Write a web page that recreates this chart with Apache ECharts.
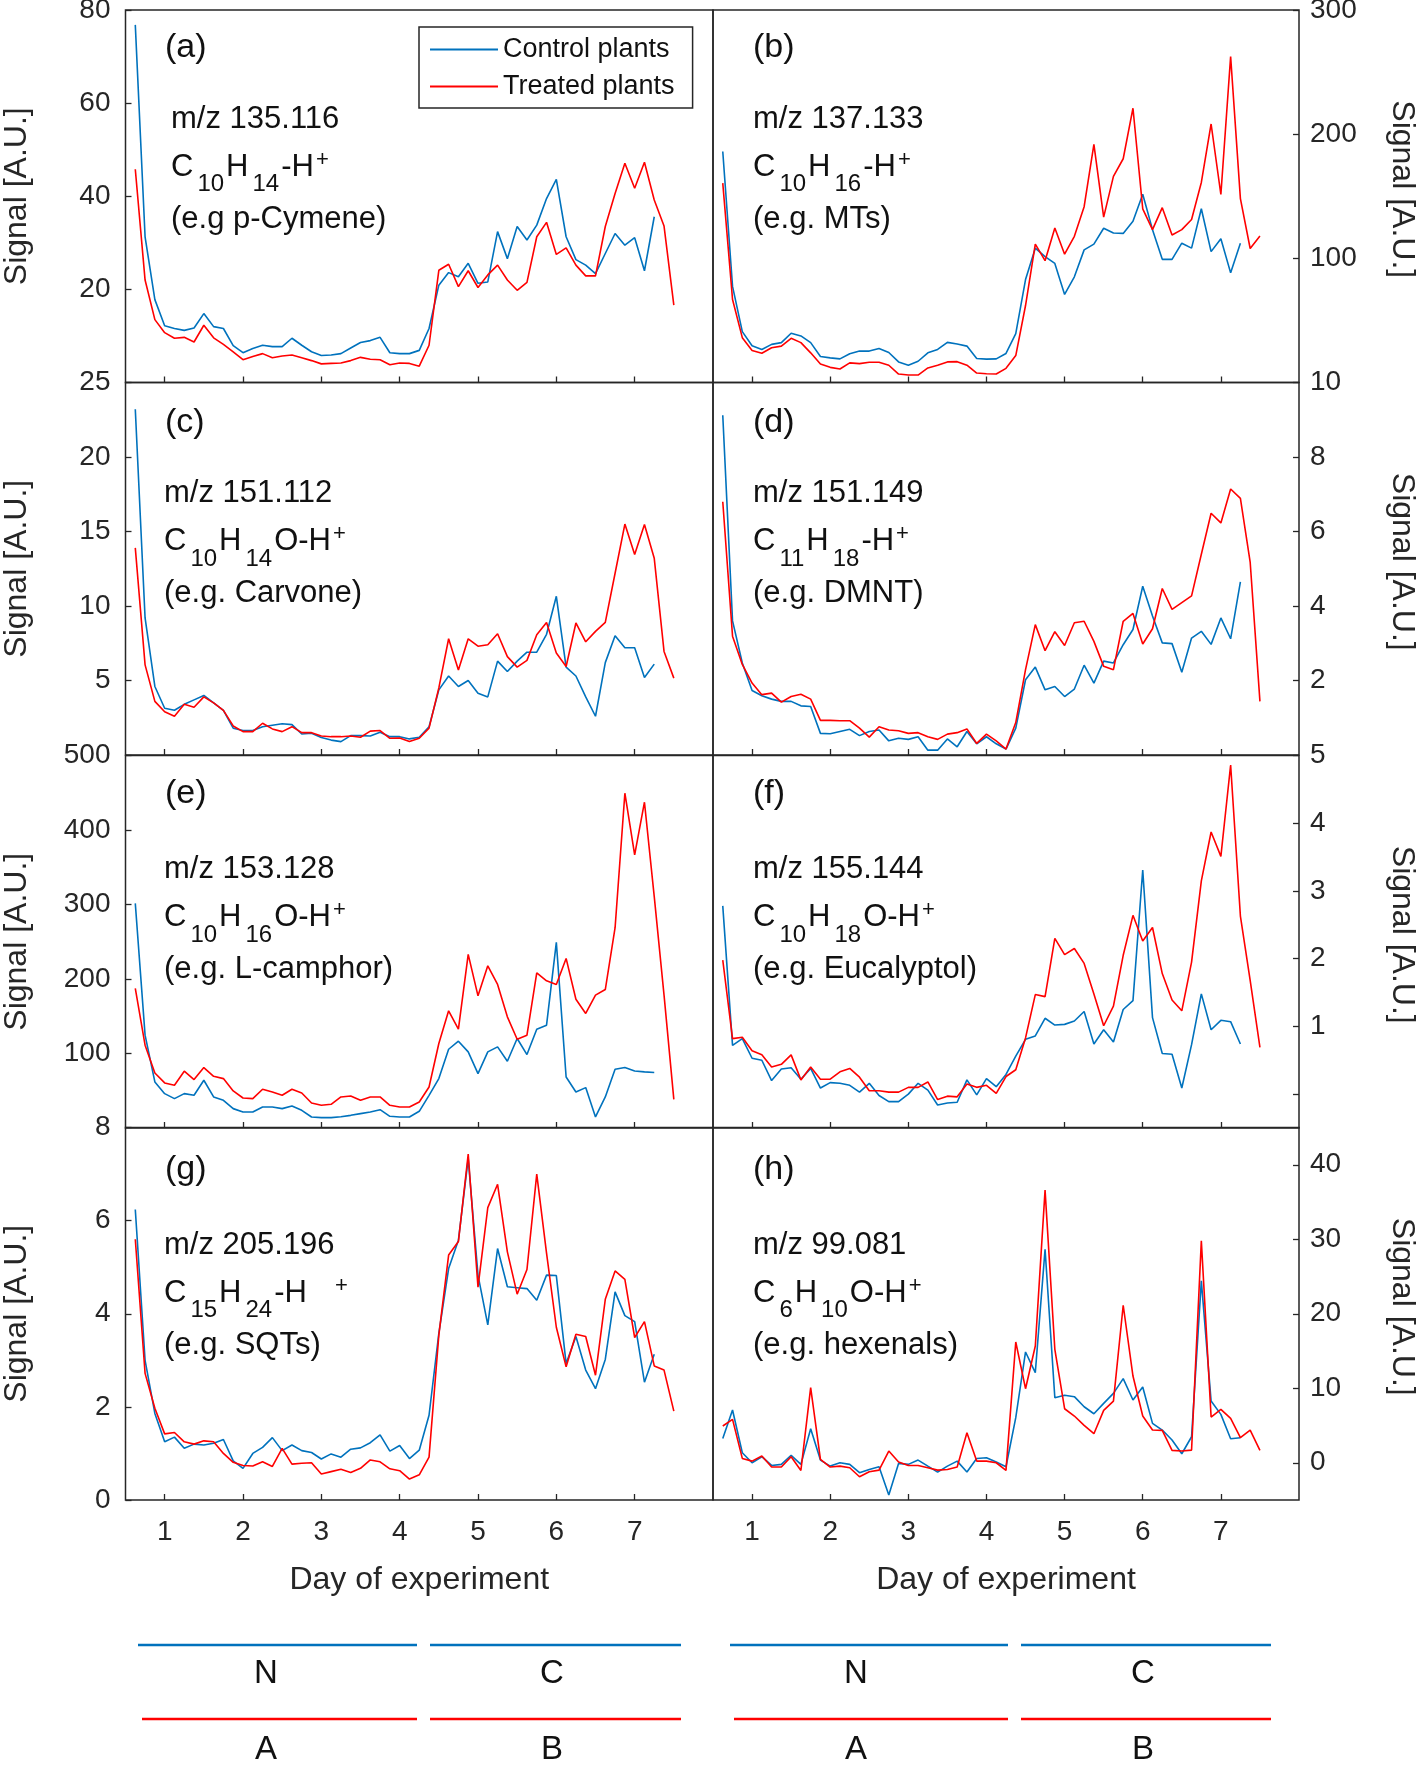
<!DOCTYPE html>
<html><head><meta charset="utf-8">
<script src="https://cdn.jsdelivr.net/npm/echarts@6/dist/echarts.min.js"></script>
<style>html,body{margin:0;padding:0;background:#fff}#c{width:1418px;height:1765px}</style>
</head><body><div id="c"></div>
<script>
// sampling times (days), every 3 h
const days = [0.625,0.75,0.875,1,1.125,1.25,1.375,1.5,1.625,1.75,1.875,2,2.125,2.25,2.375,2.5,2.625,2.75,2.875,3,3.125,3.25,3.375,3.5,3.625,3.75,3.875,4,4.125,4.25,4.375,4.5,4.625,4.75,4.875,5,5.125,5.25,5.375,5.5,5.625,5.75,5.875,6,6.125,6.25,6.375,6.5,6.625,6.75,6.875,7,7.125,7.25,7.375,7.5];
const xTicks = [1,2,3,4,5,6,7];

const aControl = [76.8,31.3,17.8,12.2,11.6,11.2,11.7,14.8,12.0,11.6,7.9,6.4,7.3,8.0,7.7,7.7,9.5,8.0,6.6,5.8,5.9,6.2,7.4,8.6,9.0,9.7,6.4,6.2,6.2,6.9,11.6,20.9,23.6,22.7,25.6,21.3,21.6,32.4,26.6,33.5,30.6,33.8,39.5,43.6,31.3,26.4,25.2,23.4,27.7,32.0,29.5,31.1,24.0,35.6];
const aTreated = [45.8,22.0,13.5,10.7,9.5,9.7,8.7,12.3,9.6,8.2,6.6,4.9,5.6,6.2,5.3,5.7,5.9,5.3,4.7,4.0,4.1,4.2,4.7,5.4,5.0,4.9,3.8,4.2,4.1,3.5,8.0,24.1,25.4,20.6,24.0,20.4,23.1,25.2,22.0,19.8,21.5,31.3,34.4,27.5,28.9,25.2,22.9,22.9,33.5,40.6,47.1,41.7,47.3,39.2,33.6,16.6];
const bControl = [186,77.4,41.0,29.6,26.6,30.7,32.1,39.7,37.5,32.1,20.9,19.8,19.0,23.1,25.3,25.3,27.4,24.2,16.6,13.9,17.1,23.9,26.6,32.3,31.0,29.3,19.3,18.8,19.0,23.4,39.4,82.9,108.2,101.4,95.9,70.9,85.1,106.8,111.4,124.2,120.4,120.1,129.9,151.6,123.1,99.2,99.2,112.2,108.2,139.9,105.4,115.8,88.3,112.2];
const bTreated = [160.6,66.8,36.1,25.8,23.6,28.0,29.3,35.6,32.1,23.9,14.9,12.2,10.9,15.8,15.2,16.3,16.3,13.9,6.8,6.0,6.0,11.7,13.9,16.6,16.8,13.9,7.6,7.1,6.8,11.4,21.7,62.0,111.4,98.1,124.5,103.3,117.7,141.6,191.8,133.2,166.0,180.2,220.9,139.9,123.1,140.8,118.8,123.1,131.3,161.1,208.2,151.4,262.5,148.1,107.9,117.9];
const cControl = [23.2,9.2,4.6,3.14,3.0,3.4,3.7,4.0,3.5,3.0,1.8,1.64,1.64,1.9,2.0,2.1,2.04,1.41,1.46,1.17,1.0,0.9,1.3,1.3,1.28,1.52,1.23,1.23,1.08,1.19,1.9,4.37,5.3,4.6,5.0,4.15,3.9,6.3,5.6,6.3,6.9,6.9,8.1,10.65,5.9,5.3,3.9,2.6,6.2,8.0,7.2,7.2,5.2,6.1];
const cTreated = [13.9,6.05,3.6,2.9,2.6,3.4,3.2,3.9,3.5,3.0,1.95,1.57,1.57,2.13,1.75,1.57,1.9,1.5,1.5,1.28,1.23,1.23,1.28,1.19,1.6,1.64,1.12,1.14,0.9,1.12,1.8,4.5,7.8,5.7,7.8,7.3,7.4,8.14,6.6,5.9,6.35,8.07,8.9,6.84,5.94,8.86,7.6,8.3,8.9,12.2,15.5,13.45,15.47,13.2,6.95,5.16];
const dControl = [9.12,3.6,2.47,1.73,1.59,1.5,1.44,1.44,1.32,1.3,0.58,0.57,0.63,0.69,0.52,0.63,0.67,0.38,0.45,0.42,0.49,0.13,0.13,0.43,0.22,0.63,0.3,0.49,0.3,0.16,0.72,2.02,2.36,1.75,1.84,1.57,1.77,2.41,1.93,2.52,2.47,2.96,3.37,4.53,3.73,3.01,2.99,2.22,3.14,3.32,2.97,3.68,3.12,4.65];
const dTreated = [6.8,3.19,2.43,1.93,1.62,1.66,1.42,1.57,1.63,1.5,0.93,0.93,0.92,0.92,0.72,0.48,0.76,0.67,0.65,0.58,0.6,0.49,0.42,0.56,0.6,0.7,0.31,0.56,0.38,0.16,0.87,2.29,3.5,2.8,3.31,2.94,3.55,3.59,3.05,2.38,2.29,3.59,3.8,2.98,3.39,4.47,3.91,4.09,4.27,5.39,6.49,6.23,7.14,6.89,5.18,1.44];
const eControl = [301.5,124.6,61.8,46.1,39.4,46.1,43.9,64.1,41.7,37.2,26.0,21.5,21.5,28.2,28.2,26.0,29.6,23.7,14.8,13.9,13.9,15.2,17.0,19.3,21.5,24.6,15.7,14.8,14.8,22.4,43.9,66.3,105.7,116.5,102.2,73.0,102.2,108.9,89.6,120.1,98.6,132.6,138.0,249.1,68.5,48.4,54.2,14.8,41.7,78.9,81.1,76.6,75.3,74.4];
const eTreated = [187.3,111.1,73.9,60.5,57.3,76.2,65.0,81.1,69.4,66.3,49.7,40.3,39.4,52.0,48.4,43.9,52.0,47.0,33.6,30.5,31.8,41.7,43.0,37.2,41.7,41.7,30.5,28.2,28.2,34.9,55.1,113.4,157.3,132.6,233.0,177.4,217.7,192.7,149.2,119.2,124.6,208.3,197.6,192.7,227.6,172.9,153.7,178.3,185.9,268.8,449.4,366.5,437.3,310.5,178.3,38.5];
const fControl = [2.78,0.72,0.82,0.53,0.5,0.2,0.37,0.39,0.22,0.38,0.09,0.17,0.16,0.13,0.03,0.16,-0.02,-0.11,-0.11,0,0.16,0.06,-0.16,-0.13,-0.12,0.21,-0.01,0.23,0.11,0.29,0.56,0.81,0.86,1.12,1.02,1.03,1.08,1.22,0.74,0.95,0.77,1.25,1.38,3.31,1.13,0.6,0.59,0.09,0.73,1.48,0.95,1.09,1.07,0.74];
const fTreated = [1.98,0.82,0.84,0.64,0.58,0.4,0.44,0.58,0.21,0.4,0.22,0.22,0.33,0.38,0.25,0.05,0.05,0.03,0.03,0.1,0.1,0.18,-0.08,-0.03,-0.04,0.15,0.1,0.13,0.01,0.26,0.36,0.83,1.47,1.44,2.3,2.06,2.15,1.93,1.48,1.01,1.3,2.05,2.64,2.26,2.46,1.78,1.39,1.23,1.95,3.15,3.87,3.51,4.86,2.63,1.68,0.69];
const gControl = [6.24,3.0,1.86,1.25,1.35,1.11,1.2,1.18,1.22,1.3,0.84,0.68,1.0,1.13,1.34,1.06,1.18,1.06,1.02,0.88,0.99,0.92,1.09,1.12,1.23,1.4,1.05,1.17,0.89,1.07,1.82,3.58,4.97,5.58,7.33,4.83,3.76,5.4,4.58,4.56,4.54,4.29,4.83,4.82,2.93,3.51,2.79,2.39,3.02,4.47,3.96,3.83,2.53,3.13];
const gTreated = [5.6,2.72,1.97,1.42,1.45,1.25,1.2,1.27,1.25,1.0,0.81,0.74,0.73,0.82,0.72,1.11,0.77,0.79,0.8,0.56,0.61,0.66,0.59,0.68,0.86,0.82,0.67,0.63,0.45,0.54,0.92,3.54,5.26,5.55,7.43,4.57,6.28,6.78,5.33,4.42,4.95,7.0,5.3,3.71,2.86,3.56,3.51,2.68,4.31,4.92,4.74,3.49,3.83,2.88,2.79,1.91];
const hControl = [3.27,7.08,1.34,0,0.81,-0.36,-0.22,0.99,-0.22,4.57,0.36,-0.45,0,-0.22,-1.34,-0.9,-0.54,-4.34,-0.09,-0.22,0.36,-0.45,-1.25,-0.45,0.22,-1.25,0.58,0.67,0.09,-0.54,6.05,14.87,12.09,28.66,8.73,9.05,8.87,7.52,6.58,7.97,9.31,11.29,8.42,10.17,5.28,4.39,3.05,1.21,3.49,24.41,8.28,6.49,3.22,3.36];
const hTreated = [4.93,5.82,0.58,0.22,0.9,-0.58,-0.58,0.81,-1.03,10.08,0.45,-0.58,-0.45,-0.67,-1.88,-1.21,-0.99,1.57,0.09,-0.36,-0.36,-0.67,-0.99,-0.9,-0.58,4.03,0.22,0.22,0,-1.03,16.21,9.94,15.67,36.59,15.23,7.25,6.27,5.02,3.9,7.03,8.28,21.14,11.64,6.27,4.39,4.34,1.66,1.57,1.7,29.78,6.14,7.17,5.96,3.36,4.39,1.66];

// y ranges and tick labels
const aRange = [0, 80],   aTicks = [20, 40, 60, 80],      aLabels = [20, 40, 60, 80];
const bRange = [0, 300],  bTicks = [100, 200, 300],       bLabels = [100, 200, 300];
const cRange = [0, 25],   cTicks = [5, 10, 15, 20, 25],   cLabels = [5, 10, 15, 20, 25];
const dRange = [0, 10],   dTicks = [2, 4, 6, 8, 10],      dLabels = [2, 4, 6, 8, 10];
const eRange = [0, 500],  eTicks = [100, 200, 300, 400, 500], eLabels = [100, 200, 300, 400, 500];
const fRange = [-0.5, 5], fTicks = [0, 1, 2, 3, 4, 5],    fLabels = [1, 2, 3, 4, 5];
const gRange = [0, 8],    gTicks = [0, 2, 4, 6, 8],       gLabels = [0, 2, 4, 6, 8];
const hRange = [-5, 45],  hTicks = [0, 10, 20, 30, 40],   hLabels = [0, 10, 20, 30, 40];

const seriesNames = ['Control plants', 'Treated plants'];
const panelTags = ['(a)','(b)','(c)','(d)','(e)','(f)','(g)','(h)'];
const mzTexts = ['m/z 135.116','m/z 137.133','m/z 151.112','m/z 151.149','m/z 153.128','m/z 155.144','m/z 205.196','m/z 99.081'];
const formulas = [
  '{m|C}{s|10}{m|H}{s|14}{m|-H}{p|+}',
  '{m|C}{s|10}{m|H}{s|16}{m|-H}{p|+}',
  '{m|C}{s|10}{m|H}{s|14}{m|O-H}{p|+}',
  '{m|C}{s|11}{m|H}{s|18}{m|-H}{p|+}',
  '{m|C}{s|10}{m|H}{s|16}{m|O-H}{p|+}',
  '{m|C}{s|10}{m|H}{s|18}{m|O-H}{p|+}',
  '{m|C}{s|15}{m|H}{s|24}{m|-H}{pg|+}',
  '{m|C}{s|6}{m|H}{s|10}{m|O-H}{p|+}'
];
const egTexts = ['(e.g p-Cymene)','(e.g. MTs)','(e.g. Carvone)','(e.g. DMNT)','(e.g. L-camphor)','(e.g. Eucalyptol)','(e.g. SQTs)','(e.g. hexenals)'];
const phaseTop = ['N','C','N','C'];
const phaseBottom = ['A','B','A','B'];

const panels = [
  {ctrl:aControl, trt:aTreated, range:aRange, ticks:aTicks, labels:aLabels},
  {ctrl:bControl, trt:bTreated, range:bRange, ticks:bTicks, labels:bLabels},
  {ctrl:cControl, trt:cTreated, range:cRange, ticks:cTicks, labels:cLabels},
  {ctrl:dControl, trt:dTreated, range:dRange, ticks:dTicks, labels:dLabels},
  {ctrl:eControl, trt:eTreated, range:eRange, ticks:eTicks, labels:eLabels},
  {ctrl:fControl, trt:fTreated, range:fRange, ticks:fTicks, labels:fLabels},
  {ctrl:gControl, trt:gTreated, range:gRange, ticks:gTicks, labels:gLabels},
  {ctrl:hControl, trt:hTreated, range:hRange, ticks:hTicks, labels:hLabels}
];

// ---------- layout / style ----------
const FAM = "'Liberation Sans', Arial, Helvetica, sans-serif";
const BLUE = '#0072BD', RED = '#FF0000', AX = '#262626', TXT = '#111111';
const colLeft = [125.5, 713], colW = [587.5, 586];
const rowTop = [10, 382.5, 755.5, 1127.5], rowH = 372.5;
const tagDy = [37.5, 40.5, 37.7, 42.5];
const rowOff = [0, 2, 5, 8.5];

const grids = [], xAxes = [], yAxes = [], series = [], graphics = [];
panels.forEach((p, k) => {
  const col = k % 2, row = Math.floor(k / 2);
  grids.push({left: colLeft[col], top: rowTop[row], width: colW[col], height: rowH,
    show: true, borderColor: AX, borderWidth: 1.5, backgroundColor: 'transparent',
    containLabel: false, outerBoundsMode: 'none'});
  const bottom = row === 3;
  xAxes.push({gridIndex: k, type: 'value', min: 0.5, max: 8, position: 'bottom',
    axisLine: {show: false, onZero: false}, splitLine: {show: false},
    axisTick: {show: true, inside: true, length: 6, lineStyle: {color: AX, width: 1.3}, customValues: xTicks},
    axisLabel: {show: bottom, customValues: xTicks, fontSize: 28, color: AX, margin: 18, fontFamily: FAM},
    name: bottom ? 'Day of experiment' : '', nameLocation: 'middle', nameGap: 64, nameMoveOverlap: false,
    nameTextStyle: {fontSize: 32, color: AX, fontFamily: FAM}});
  yAxes.push({gridIndex: k, type: 'value', min: p.range[0], max: p.range[1],
    position: col ? 'right' : 'left',
    axisLine: {show: false, onZero: false}, splitLine: {show: false},
    axisTick: {show: true, inside: true, length: 6, lineStyle: {color: AX, width: 1.3}, customValues: p.ticks},
    axisLabel: {show: true, customValues: p.labels, fontSize: 28, color: AX, margin: col ? 11 : 15, fontFamily: FAM},
    name: 'Signal [A.U.]', nameLocation: 'middle', nameRotate: col ? -90 : 90, nameGap: col ? 87 : 92,
    nameMoveOverlap: false,
    nameTextStyle: {fontSize: 32, color: AX, fontFamily: FAM, padding: col ? [0, 14, 0, 0] : 0}});
  [[p.ctrl, BLUE, seriesNames[0]], [p.trt, RED, seriesNames[1]]].forEach(([vals, color, name]) => {
    series.push({type: 'line', name: name, xAxisIndex: k, yAxisIndex: k,
      data: vals.map((v, i) => [days[i], v]),
      symbol: 'none', showSymbol: false, smooth: false, clip: true,
      lineStyle: {color: color, width: 1.6}, itemStyle: {color: color}, silent: true});
  });
  // annotations
  const T = rowTop[row];
  const xTag = col ? 753 : 165;
  const xTxt = col ? 753 : (k === 0 ? 171 : 164);
  graphics.push({type: 'text', x: xTag, y: T + tagDy[row], silent: true,
    style: {text: panelTags[k], fontSize: 34, fontFamily: FAM, fill: TXT, align: 'left', verticalAlign: 'middle'}});
  graphics.push({type: 'text', x: xTxt, y: T + 109 + rowOff[row], silent: true,
    style: {text: mzTexts[k], fontSize: 31, fontFamily: FAM, fill: TXT, align: 'left', verticalAlign: 'middle'}});
  graphics.push({type: 'text', x: xTxt, y: T + 157 + rowOff[row], silent: true,
    style: {text: formulas[k], fontSize: 31, fontFamily: FAM, fill: TXT, align: 'left', verticalAlign: 'middle',
      rich: {
        m: {fontSize: 31, fontFamily: FAM, fill: TXT},
        s: {fontSize: 24, fontFamily: FAM, fill: TXT, padding: [35, 2, 0, 4]},
        p: {fontSize: 22, fontFamily: FAM, fill: TXT, padding: [0, 0, 15, 2]},
        pg: {fontSize: 22, fontFamily: FAM, fill: TXT, padding: [0, 0, 15, 28]}
      }}});
  graphics.push({type: 'text', x: xTxt, y: T + 209 + rowOff[row], silent: true,
    style: {text: egTexts[k], fontSize: 31, fontFamily: FAM, fill: TXT, align: 'left', verticalAlign: 'middle'}});
});

// phase bars under the panels
const barSpans = [[138, 417], [430, 681], [730, 1008], [1021, 1271]];
const letterX = [266, 552, 856, 1143];
barSpans.forEach((s, i) => {
  graphics.push({type: 'line', silent: true, shape: {x1: s[0], y1: 1645, x2: s[1], y2: 1645}, style: {stroke: BLUE, lineWidth: 2.5}});
  graphics.push({type: 'line', silent: true, shape: {x1: s[0] + (i % 2 ? 0 : 4), y1: 1719, x2: s[1], y2: 1719}, style: {stroke: RED, lineWidth: 2.5}});
  graphics.push({type: 'text', x: letterX[i], y: 1674, silent: true,
    style: {text: phaseTop[i], fontSize: 33, fontFamily: "'Liberation Sans Narrow', " + FAM, fill: TXT, align: 'center', verticalAlign: 'middle'}});
  graphics.push({type: 'text', x: letterX[i], y: 1750, silent: true,
    style: {text: phaseBottom[i], fontSize: 33, fontFamily: "'Liberation Sans Narrow', " + FAM, fill: TXT, align: 'center', verticalAlign: 'middle'}});
});

const chart = echarts.init(document.getElementById('c'), null, {renderer: 'canvas', width: 1418, height: 1765});
chart.setOption({
  animation: false,
  backgroundColor: '#ffffff',
  textStyle: {fontFamily: FAM},
  legend: {
    data: seriesNames, orient: 'vertical', left: 419, top: 27,
    icon: 'rect', itemWidth: 68, itemHeight: 2, itemGap: 10, padding: [9, 18, 8, 11],
    borderColor: AX, borderWidth: 1.5, backgroundColor: '#fff',
    textStyle: {fontSize: 27, color: TXT, fontFamily: FAM}, selectedMode: false
  },
  grid: grids, xAxis: xAxes, yAxis: yAxes, series: series, graphic: graphics
});
</script></body></html>
